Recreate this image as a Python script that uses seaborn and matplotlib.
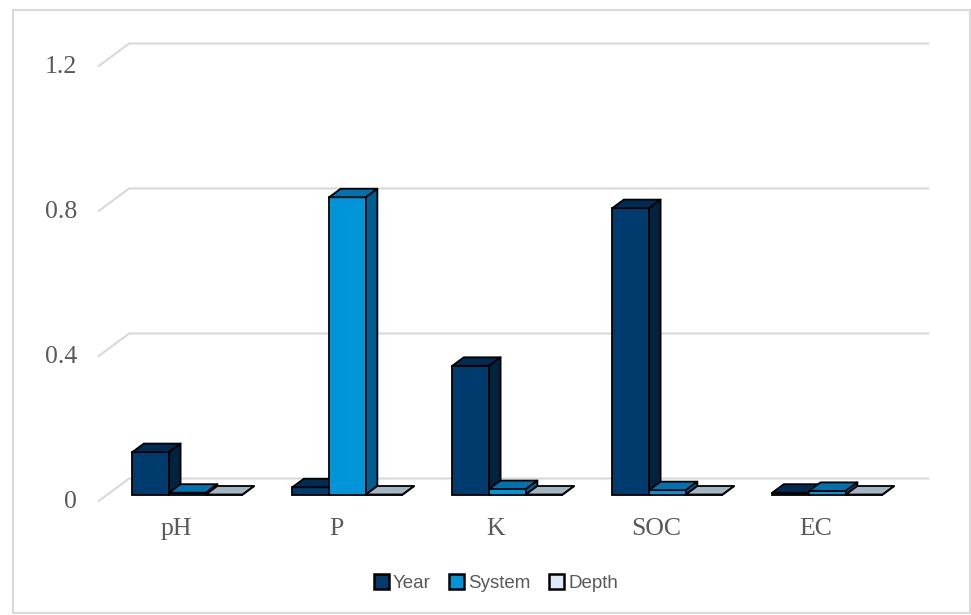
import numpy as np
import pandas as pd
import matplotlib
matplotlib.use("Agg")
import matplotlib.pyplot as plt
import seaborn as sns
from matplotlib.patches import Polygon, Patch, Rectangle
from matplotlib.lines import Line2D
from matplotlib.transforms import offset_copy

# ---------------- data ----------------
categories = ["pH", "P", "K", "SOC", "EC"]
series_names = ["Year", "System", "Depth"]
year_vals = [0.117, 0.02, 0.355, 0.79, 0.005]
system_vals = [0.005, 0.82, 0.015, 0.012, 0.01]
depth_vals = [0.0, 0.0, 0.0, 0.0, 0.0]
y_ticks = [0, 0.4, 0.8, 1.2]
y_tick_labels = ["0", "0.4", "0.8", "1.2"]

# ---------------- styles ----------------
front_colors = {"Year": "#003B6E", "System": "#0095D9", "Depth": "#DCEAF7"}
top_colors = {"Year": "#002C54", "System": "#0072AE", "Depth": "#A5B6C3"}
side_colors = {"Year": "#00233F", "System": "#005D8D", "Depth": "#8797A3"}
legend_colors = {"Year": "#003B6E", "System": "#0095D9", "Depth": "#DCEAF7"}
grid_color = "#D9D9D9"
text_color = "#595959"
RATIO = 1.35      # x shift per px of depth
BAR_DEPTH = 8.5   # px
BACK_D = 16       # back wall depth (px) relative to bar front plane
FRONT_D = -7      # label plane depth (px)

df = pd.DataFrame({
    "category": categories * 3,
    "series": [s for s in series_names for _ in categories],
    "value": year_vals + system_vals + depth_vals,
})

sns.set_theme(style="white")
plt.rcParams["font.family"] = ["Liberation Serif", "DejaVu Serif"]

W, H = 971, 615
fig = plt.figure(figsize=(W / 100, H / 100), dpi=100)
ax = fig.add_axes([107.5 / W, (H - 494.5) / H, 800 / W, 435 / H])

sns.barplot(data=df, x="category", y="value", hue="series", order=categories,
            hue_order=series_names, palette=front_colors, width=0.69,
            edgecolor="black", linewidth=1.3, saturation=1, errorbar=None,
            legend=False, ax=ax)
ax.set_xlim(-0.5, 4.5)
ax.set_ylim(0, 1.2)
ax.set_axis_off()

inv = ax.transData.inverted()


def shifted(x, y, d):
    px, py = ax.transData.transform((x, y))
    return inv.transform((px + RATIO * d, py + d))


# back wall gridlines with diagonal left edge
for v in y_ticks:
    pts = np.array([shifted(-0.5, v, FRONT_D), shifted(-0.5, v, BACK_D),
                    shifted(4.5, v, BACK_D)])
    ax.add_line(Line2D(pts[:, 0], pts[:, 1], color=grid_color, lw=1.5,
                       zorder=1, clip_on=False, solid_capstyle="butt"))

# 3D faces for bars (drawn left to right so nearer faces overlap)
items = []
for name, cont in zip(series_names, ax.containers):
    for bar in cont:
        items.append((bar.get_x(), name, bar))
items.sort(key=lambda t: t[0])

z = 3
for x0, name, bar in items:
    w = bar.get_width()
    h = bar.get_height()
    x1 = x0 + w
    bar.set_zorder(z)
    bar.set_clip_on(False)
    top = [(x0, h), (x1, h), shifted(x1, h, BAR_DEPTH), shifted(x0, h, BAR_DEPTH)]
    side = [(x1, 0), (x1, h), shifted(x1, h, BAR_DEPTH), shifted(x1, 0, BAR_DEPTH)]
    ax.add_patch(Polygon(top, closed=True, facecolor=top_colors[name],
                         edgecolor="black", lw=1.3, zorder=z + 1, clip_on=False,
                         joinstyle="round"))
    ax.add_patch(Polygon(side, closed=True, facecolor=side_colors[name],
                         edgecolor="black", lw=1.3, zorder=z + 2, clip_on=False,
                         joinstyle="round"))
    z += 3

# y tick labels (label plane)
ytr = offset_copy(ax.transData, fig=fig, x=-30.5, y=-13.5, units="dots")
for v, lab in zip(y_ticks, y_tick_labels):
    ax.text(-0.5, v, lab, transform=ytr, ha="right", va="baseline",
            fontsize=18.5, color=text_color)

# category labels
xtr = offset_copy(ax.transData, fig=fig, x=-11.5, y=-40.5, units="dots")
for i, c in enumerate(categories):
    ax.text(i, 0, c, transform=xtr, ha="center", va="baseline",
            fontsize=18.5, color=text_color)

# legend
handles = [Patch(facecolor=legend_colors[s], edgecolor="black", lw=1.8) for s in series_names]
fig.legend(handles, series_names, loc="center", bbox_to_anchor=(496 / W, 1 - 583 / H),
           ncol=3, frameon=False, handlelength=0.8, handleheight=0.8,
           handletextpad=0.2, columnspacing=1.0, labelcolor=text_color,
           prop={"family": ["Liberation Sans", "DejaVu Sans"], "size": 13.5})

# outer chart border
fig.add_artist(Rectangle((13 / W, 2 / H), 957 / W, 603 / H, transform=fig.transFigure,
                         fill=False, edgecolor=grid_color, lw=1.5))

fig.savefig("out.png", dpi=100)
